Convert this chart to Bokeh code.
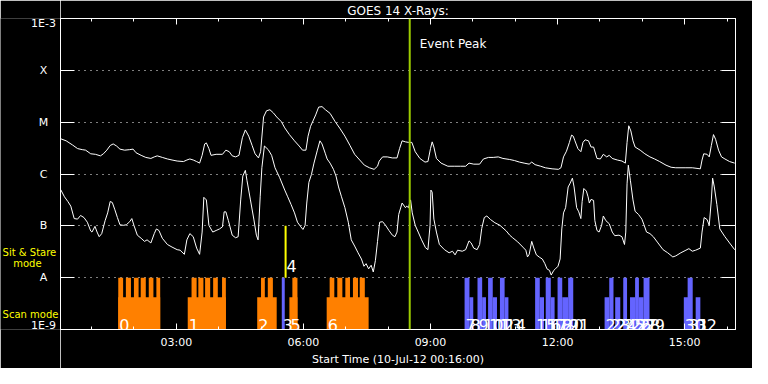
from bokeh.plotting import figure
from bokeh.layouts import row
from bokeh.models import FixedTicker, LinearAxis, Range1d, Label, Span
from bokeh.embed import file_html
from bokeh.resources import INLINE
from bokeh.core.properties import value

# ---------------- data (time in hours UT of 10-Jul-12, flux as log10 W/m^2) -------------
x_start, x_end = 16 / 60, 16.20

goes_long_t = [0.27, 0.40, 0.55, 0.67, 0.78, 0.86, 0.98, 1.09, 1.21, 1.28, 1.36, 1.44, 1.51, 1.59, 1.67,
               1.78, 1.90, 1.98, 2.05, 2.17, 2.28, 2.40, 2.48, 2.55, 2.67, 2.79, 2.90, 3.02, 3.17, 3.25,
               3.32, 3.40, 3.48, 3.55, 3.61, 3.67, 3.71, 3.77, 3.82, 3.94, 4.09, 4.17, 4.25, 4.32, 4.40,
               4.48, 4.56, 4.63, 4.71, 4.79, 4.86, 4.94, 4.99, 5.06, 5.13, 5.21, 5.29, 5.37, 5.48,
               5.56, 5.67, 5.79, 5.90, 5.98, 6.06, 6.11, 6.17, 6.29, 6.36, 6.44, 6.52, 6.63, 6.75, 6.87,
               6.98, 7.10, 7.21, 7.33, 7.44, 7.56, 7.67, 7.75, 7.79, 7.87, 7.98, 8.10, 8.21, 8.27, 8.33,
               8.41, 8.48, 8.56, 8.64, 8.75, 8.87, 8.94, 9.00, 9.04, 9.08, 9.14, 9.25, 9.41, 9.56, 9.71,
               9.83, 9.91, 10.02, 10.16, 10.25, 10.37, 10.48, 10.60, 10.71, 10.87,
               10.98, 11.10, 11.21, 11.33, 11.39, 11.47, 11.60, 11.71, 11.87, 12.02, 12.08, 12.14, 12.21,
               12.28, 12.33, 12.37, 12.41, 12.48, 12.55, 12.60, 12.65, 12.73, 12.79, 12.85, 12.93, 13.01,
               13.08, 13.16, 13.22, 13.29, 13.41, 13.52, 13.60, 13.64, 13.68, 13.73, 13.78, 13.83, 13.95,
               14.06, 14.18, 14.29, 14.41, 14.56, 14.68, 14.79, 15.03, 15.18, 15.37, 15.41, 15.45, 15.53,
               15.58, 15.63, 15.68, 15.73, 15.80, 15.87, 15.95, 16.06, 16.18]
goes_long_f = [-5.32, -5.36, -5.44, -5.51, -5.53, -5.54, -5.61, -5.62, -5.65, -5.61, -5.54, -5.45, -5.42, -5.46, -5.52,
               -5.54, -5.53, -5.52, -5.59, -5.64, -5.68, -5.70, -5.67, -5.65, -5.68, -5.71, -5.73, -5.75, -5.76, -5.73,
               -5.71, -5.73, -5.76, -5.79, -5.64, -5.42, -5.40, -5.51, -5.64, -5.62, -5.62, -5.54, -5.57, -5.65, -5.67,
               -5.64, -5.30, -5.15, -5.27, -5.45, -5.61, -5.69, -5.57, -4.90, -4.78, -4.76, -4.82, -4.90, -4.99,
               -5.11, -5.24, -5.36, -5.46, -5.54, -5.54, -5.27, -5.08, -4.86, -4.71, -4.70, -4.76, -4.83, -4.99, -5.13,
               -5.27, -5.45, -5.62, -5.73, -5.83, -5.88, -5.91, -5.85, -5.75, -5.67, -5.67, -5.69, -5.69, -5.51, -5.36,
               -5.38, -5.39, -5.39, -5.57, -5.70, -5.77, -5.76, -5.51, -5.38, -5.48, -5.70, -5.79, -5.85, -5.85, -5.85,
               -5.85, -5.79, -5.81, -5.81, -5.71, -5.68, -5.68, -5.67, -5.70, -5.72,
               -5.74, -5.77, -5.79, -5.81, -5.77, -5.82, -5.85, -5.88, -5.90, -5.91, -5.88, -5.67, -5.56,
               -5.39, -5.25, -5.27, -5.36, -5.51, -5.57, -5.39, -5.34, -5.36, -5.48, -5.48, -5.70, -5.71,
               -5.62, -5.67, -5.64, -5.70, -5.73, -5.75, -5.79, -5.39, -5.07, -5.17, -5.36, -5.48, -5.54,
               -5.61, -5.67, -5.71, -5.76, -5.83, -5.87, -5.88, -5.88, -5.88, -5.90, -5.73, -5.61, -5.62,
               -5.67, -5.45, -5.24, -5.33, -5.54, -5.67, -5.71, -5.76, -5.79]

goes_short_t = [0.27, 0.36, 0.44, 0.51, 0.59, 0.67, 0.74, 0.82, 0.90, 0.98, 1.01, 1.08, 1.13, 1.18, 1.24,
                1.32, 1.38, 1.44, 1.49, 1.55, 1.61, 1.67, 1.75, 1.82, 1.90, 1.95, 2.00, 2.08, 2.17, 2.25,
                2.31, 2.40, 2.48, 2.53, 2.59, 2.67, 2.79, 2.90, 3.02, 3.09, 3.19, 3.25, 3.32, 3.40, 3.48,
                3.55, 3.61, 3.65, 3.71, 3.77, 3.86, 3.94, 4.02, 4.09, 4.13, 4.17, 4.23, 4.32, 4.40, 4.46,
                4.52, 4.57, 4.63, 4.67, 4.75, 4.83, 4.89, 4.93, 4.98, 5.02, 5.08, 5.17, 5.25, 5.33, 5.44,
                5.56, 5.63, 5.71, 5.79, 5.86, 5.94, 5.99, 6.04, 6.08, 6.13, 6.19, 6.25, 6.33, 6.39, 6.44,
                6.52, 6.56, 6.63, 6.71, 6.77, 6.83, 6.90, 6.98, 7.06, 7.13, 7.21, 7.29, 7.37, 7.43, 7.48,
                7.54, 7.60, 7.65, 7.70, 7.75, 7.80, 7.87, 7.94, 8.02, 8.10, 8.16, 8.21, 8.25, 8.33, 8.41,
                8.44, 8.48, 8.53, 8.57, 8.64, 8.71, 8.79, 8.88, 8.94, 8.99, 9.01, 9.04, 9.08, 9.14, 9.21,
                9.33, 9.44, 9.52, 9.58, 9.64, 9.75, 9.83, 9.91, 9.96, 10.02, 10.10, 10.16, 10.21, 10.27, 10.33,
                10.42, 10.52, 10.64, 10.79,
                10.87, 10.94, 11.06, 11.18, 11.25, 11.29, 11.33, 11.39, 11.44, 11.50, 11.58, 11.64, 11.70,
                11.75, 11.81, 11.85, 11.91, 11.95, 12.01, 12.06, 12.10, 12.14, 12.19, 12.25, 12.29, 12.35,
                12.39, 12.45, 12.50, 12.55, 12.58, 12.62, 12.68, 12.72, 12.75, 12.79, 12.85, 12.88, 12.93,
                12.98, 13.04, 13.08, 13.14, 13.22, 13.29, 13.35, 13.45, 13.52, 13.58, 13.61, 13.64, 13.67,
                13.72, 13.78, 13.83, 13.91, 13.99, 14.04, 14.10, 14.18, 14.26, 14.37, 14.49, 14.60, 14.72,
                14.79, 14.91, 15.03, 15.10, 15.18, 15.26, 15.37, 15.41, 15.46, 15.53, 15.58, 15.63, 15.66,
                15.70, 15.76, 15.83, 15.95, 16.06, 16.18]
goes_short_f = [-6.30, -6.44, -6.53, -6.62, -6.86, -6.87, -6.80, -6.84, -6.93, -7.10, -7.12, -7.01, -7.12, -7.21, -7.15,
                -6.90, -6.75, -6.53, -6.55, -6.69, -6.84, -6.98, -6.99, -6.98, -6.92, -6.86, -6.99, -7.18, -7.24, -7.30,
                -7.27, -7.33, -7.15, -7.06, -7.09, -7.24, -7.36, -7.41, -7.46, -7.47, -7.55, -7.27, -7.15, -7.21, -7.43,
                -7.55, -7.12, -6.45, -6.50, -6.99, -7.12, -7.09, -7.06, -7.02, -6.73, -6.73, -6.90, -7.18, -7.23, -7.21,
                -6.50, -6.04, -5.93, -6.13, -6.50, -6.87, -7.18, -7.27, -6.44, -5.88, -5.46, -5.53, -5.64, -5.88, -6.07,
                -6.31, -6.44, -6.59, -6.75, -6.93, -7.02, -7.07, -6.99, -6.56, -6.16, -6.01, -5.79, -5.54, -5.36, -5.42,
                -5.61, -5.71, -5.79, -5.91, -6.04, -6.25, -6.44, -6.65, -6.93, -7.27, -7.39, -7.52, -7.64, -7.78, -7.73,
                -7.83, -7.76, -7.89, -7.67, -7.30, -6.93, -6.92, -6.99, -7.09, -7.18, -7.21, -7.12, -6.78, -6.56, -6.65,
                -6.62, -6.65, -6.50, -6.75, -6.99, -7.12, -7.27, -7.42, -7.46, -6.99, -6.31, -6.35, -6.87, -7.12, -7.36,
                -7.46, -7.52, -7.49, -7.56, -7.47, -7.49, -7.46, -7.29, -7.33, -7.43, -7.46, -7.36, -7.05, -6.84, -6.81,
                -6.88, -6.94, -6.99, -7.10,
                -7.18, -7.23, -7.31, -7.41, -7.47, -7.60, -7.55, -7.30, -7.43, -7.56, -7.61, -7.64, -7.73,
                -7.83, -7.86, -7.95, -7.86, -7.83, -7.78, -7.64, -7.06, -6.75, -6.65, -6.25, -6.19, -6.08,
                -6.25, -6.65, -6.73, -6.86, -6.53, -6.28, -6.33, -6.44, -6.56, -6.49, -6.51, -6.90, -7.09,
                -7.12, -6.99, -6.81, -6.90, -6.96, -7.12, -7.19, -7.18, -7.21, -7.36, -7.12, -6.19, -5.83,
                -6.13, -6.50, -6.72, -6.78, -6.87, -6.98, -7.12, -7.15, -7.21, -7.33, -7.46, -7.52, -7.60,
                -7.58, -7.52, -7.47, -7.44, -7.49, -7.47, -7.43, -7.12, -6.84, -6.88, -6.99, -6.50, -6.08,
                -6.25, -6.59, -7.06, -7.21, -7.33, -7.46]

# flux class levels (log10 W/m^2) and their labels
levels = [-3, -4, -5, -6, -7, -8, -9]
level_labels = ["1E-3", "X", "M", "C", "B", "A", "1E-9"]
grid_levels = [-4, -5, -6, -7, -8]

hour_ticks = [3, 6, 9, 12, 15]
hour_labels = ["03:00", "06:00", "09:00", "12:00", "15:00"]
minor_hours = list(range(1, 17))

# observing-mode levels (log10 units on the same axis)
scan_level = -8.38
stare_level = -8.0
stare_top = -7.0

# scan mode observations (orange): group extent and its individual rasters
orange_id = ["0", "1", "2", "5", "6"]
orange_start = [1.63, 3.27, 4.91, 5.67, 6.55]
orange_end = [2.62, 4.17, 5.37, 5.86, 7.54]
raster_start = [1.63, 1.81, 2.00, 2.16, 2.35, 2.53, 3.36, 3.52, 3.68, 3.87, 4.08,
                5.00, 5.16, 5.74, 6.62, 6.80, 6.99, 7.17, 7.33]
raster_end = [1.745, 1.93, 2.11, 2.28, 2.46, 2.62, 3.48, 3.64, 3.80, 3.98, 4.17,
              5.09, 5.28, 5.86, 6.73, 6.92, 7.10, 7.29, 7.45]

# other observations (blue)
blue_id = [str(i) for i in [3] + list(range(7, 33))]
blue_start = [5.49, 9.805, 9.92, 10.11, 10.22, 10.36, 10.47, 10.64, 10.75,
              11.47, 11.58, 11.72, 11.84, 12.00, 12.11, 12.25,
              13.11, 13.22, 13.36, 13.55, 13.71, 13.83, 13.92, 14.03,
              14.98, 15.07, 15.26]
blue_end = [5.56, 9.92, 10.01, 10.22, 10.31, 10.47, 10.57, 10.75, 10.84,
            11.58, 11.68, 11.84, 11.93, 12.11, 12.25, 12.37,
            13.22, 13.32, 13.48, 13.64, 13.83, 13.92, 14.03, 14.17,
            15.09, 15.19, 15.37]
blue_top = [-8.0, -8.0, -8.38, -8.0, -8.38, -8.0, -8.38, -8.0, -8.38,
            -8.0, -8.38, -8.0, -8.38, -8.0, -8.38, -8.0,
            -8.38, -8.0, -8.38, -8.0, -8.38, -8.0, -8.38, -8.0,
            -8.38, -8.0, -8.38]

sit_stare_id = "4"
sit_stare_time = 5.58
event_peak_time = 8.51

# captions left of the plot: text, start time (h), log-flux baseline
mode_captions = ["Sit & Stare", "mode", "Scan mode"]
mode_caption_x = [-1.10, -0.85, -1.10]
mode_caption_y = [-7.505, -7.727, -8.707]

ORANGE = "#ff8000"
BLUE = "#6464ff"
YELLOW = "#ffff00"
GREEN = "#9ccc00"
FONT = "DejaVu Sans"

# ---------------- layout geometry ----------------
H = 368
TOP, BOTTOM = 18, 39
SIDE_W, MAIN_W, RIGHT = 60, 692, 17
frame_w = MAIN_W - RIGHT
px_per_hour = frame_w / (x_end - x_start)

# ---------------- main figure ----------------
p = figure(width=MAIN_W, height=H, x_range=Range1d(x_start, x_end), y_range=Range1d(-9, -3),
           output_backend="svg", toolbar_location=None,
           min_border_left=0, min_border_right=RIGHT, min_border_top=TOP, min_border_bottom=BOTTOM,
           background_fill_color="black", border_fill_color="black",
           outline_line_color="white", outline_line_width=1)

p.title.text = "GOES 14 X-Rays:"
p.title.align = "center"
p.title.text_color = "white"
p.title.text_font = FONT
p.title.text_font_size = "12px"
p.title.text_font_style = "normal"
p.title.standoff = 1

p.xgrid.visible = False
p.ygrid.ticker = FixedTicker(ticks=grid_levels)
p.ygrid.grid_line_color = "white"
p.ygrid.grid_line_dash = "1 5"
p.ygrid.grid_line_width = 1


def style_axis(ax, tick_in, minor_in=0, labels=False, standoff=6):
    ax.axis_line_color = "white"
    ax.major_tick_line_color = "white"
    ax.minor_tick_line_color = "white"
    ax.major_tick_in = tick_in
    ax.major_tick_out = 0
    ax.minor_tick_in = minor_in
    ax.minor_tick_out = 0
    if labels:
        ax.major_label_text_color = "white"
        ax.major_label_text_font = FONT
        ax.major_label_text_font_size = "11px"
        ax.major_label_standoff = standoff
    else:
        ax.major_label_text_color = None
        ax.major_label_text_font_size = "0px"
        ax.major_label_standoff = 0


p.xaxis.ticker = FixedTicker(ticks=hour_ticks, minor_ticks=minor_hours)
p.xaxis.major_label_overrides = dict(zip(hour_ticks, hour_labels))
style_axis(p.xaxis[0], 6, 3, labels=True, standoff=6)
p.xaxis.axis_label = "Start Time (10-Jul-12 00:16:00)"
p.xaxis.axis_label_text_color = "white"
p.xaxis.axis_label_text_font = FONT
p.xaxis.axis_label_text_font_size = "11px"
p.xaxis.axis_label_text_font_style = "normal"
p.xaxis.axis_label_standoff = 1

p.yaxis.ticker = FixedTicker(ticks=levels)
style_axis(p.yaxis[0], 14)

top_axis = LinearAxis(ticker=FixedTicker(ticks=hour_ticks, minor_ticks=minor_hours))
style_axis(top_axis, 6, 3)
p.add_layout(top_axis, "above")

right_axis = LinearAxis(ticker=FixedTicker(ticks=levels))
style_axis(right_axis, 14)
p.add_layout(right_axis, "right")

# GOES curves
p.line(goes_long_t, goes_long_f, line_color="white", line_width=1)
p.line(goes_short_t, goes_short_f, line_color="white", line_width=1)

# observation bars
p.quad(left=orange_start, right=orange_end, bottom=-9, top=scan_level,
       fill_color=ORANGE, line_color=None)
p.quad(left=raster_start, right=raster_end, bottom=-9, top=stare_level,
       fill_color=ORANGE, line_color=None)
p.quad(left=blue_start, right=blue_end, bottom=-9, top=blue_top,
       fill_color=BLUE, line_color=None)

# sit & stare observation
p.segment(x0=[sit_stare_time], y0=[stare_top], x1=[sit_stare_time], y1=[stare_level],
          line_color=YELLOW, line_width=2)

# event peak
p.add_layout(Span(location=event_peak_time, dimension="height", line_color=GREEN, line_width=2))

# observation labels
for xs, ys, txt in ((orange_start, -8.92, orange_id), (blue_start, -8.92, blue_id),
                    ([sit_stare_time], -7.77, [sit_stare_id])):
    p.text(x=xs, y=[ys] * len(xs), text=txt, x_offset=1,
           text_color="white", text_font=value(FONT), text_font_size="16px",
           text_baseline="alphabetic")

p.add_layout(Label(x=event_peak_time, y=-3.49, x_offset=10, text="Event Peak",
                   text_color="white", text_font=FONT, text_font_size="12px",
                   text_baseline="alphabetic"))

# ---------------- left label panel: same flux scale and frame rows, time continued leftwards ----------------
side = figure(width=SIDE_W, height=H, title=None,
              x_axis_location=None, y_axis_location=None,
              x_range=Range1d(x_start - SIDE_W / px_per_hour, x_start),
              y_range=Range1d(-9, -3),
              output_backend="svg", toolbar_location=None,
              min_border_left=0, min_border_right=0, min_border_top=TOP, min_border_bottom=BOTTOM,
              background_fill_color="black", border_fill_color="black", outline_line_color=None)
side.grid.visible = False

# screen offsets (px, downward positive) keep the end labels inside the frame rows
level_dy = [4.5 if v == levels[0] else (-4 if v == levels[-1] else 0) for v in levels]
side.text(x=[x_start - 17 / px_per_hour] * len(levels), y=levels, text=level_labels, y_offset=level_dy,
          text_align="center", text_baseline="middle", text_color="white",
          text_font=value(FONT), text_font_size="11px")
side.text(x=mode_caption_x, y=mode_caption_y, text=mode_captions, text_align="left",
          text_baseline="alphabetic", text_color=YELLOW,
          text_font=value(FONT), text_font_size="10px")

layout = row(side, p, spacing=0)
open("out.html", "w").write(file_html(layout, INLINE))
